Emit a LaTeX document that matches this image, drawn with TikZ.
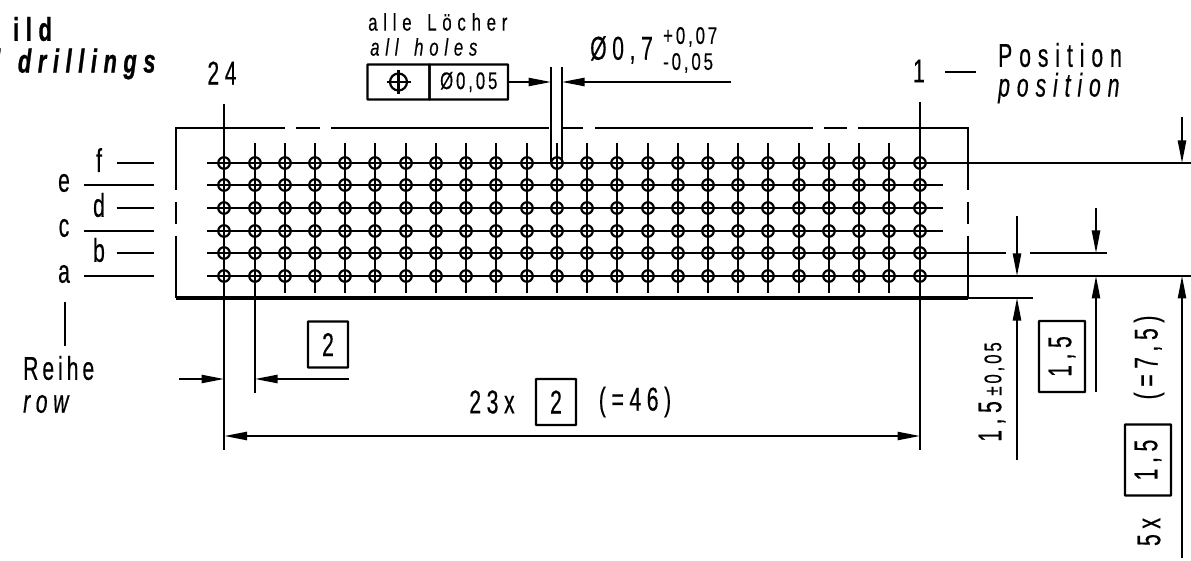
\documentclass[tikz,border=0pt]{standalone}
\usepackage{fontspec}
\usepackage{tikz}
\usetikzlibrary{arrows.meta,chains,positioning}
\newfontfamily\din[FakeStretch=0.64,LetterSpace=17,WordSpace=1.5,FakeBold=0.4]{Liberation Sans}
\newfontfamily\dinwide[FakeStretch=0.64,LetterSpace=21,WordSpace=1.5,FakeBold=0.4]{Liberation Sans}
\newfontfamily\dintight[FakeStretch=0.64,LetterSpace=12,WordSpace=1.5,FakeBold=0.4]{Liberation Sans}
\newfontfamily\dinsmall[FakeStretch=0.7,LetterSpace=24,WordSpace=1.5,FakeBold=0.3]{Liberation Sans}
\newfontfamily\dinclose[FakeStretch=0.7,LetterSpace=12,WordSpace=1.5,FakeBold=0.3]{Liberation Sans}
\newfontfamily\dinbold[FakeStretch=0.66,LetterSpace=20,WordSpace=1.4,FakeBold=0.8]{Liberation Sans Bold}
\newcommand{\bigtxt}{\din\fontsize{33}{36}\selectfont}
\newcommand{\widetxt}{\dinwide\fontsize{33}{36}\selectfont}
\newcommand{\tighttxt}{\dintight\fontsize{33}{36}\selectfont}
\newcommand{\smalltxt}{\dinsmall\fontsize{24}{26}\selectfont}
\newcommand{\closetxt}{\dinclose\fontsize{24}{26}\selectfont}
\newcommand{\boldtxt}{\dinbold\fontsize{33}{36}\selectfont}
\tikzstyle{label}=[inner sep=0pt,font=\bigtxt]
\tikzstyle{sublabel}=[inner sep=0pt,font=\smalltxt]
\tikzstyle{basic}=[draw,minimum size=0pt,inner sep=0pt,line width=2.4pt,rounded corners=0.5pt]
\tikzstyle{line}=[line width=2.4pt]
\tikzstyle{dim}=[line width=2.4pt,-{Triangle[length=23pt,width=8pt]},shorten >=-0.5pt]

\begin{document}
\begin{tikzpicture}[x=1pt,y=-1pt]
\useasboundingbox (0,0) rectangle (1191,561);
% outer frame, broken in places
\coordinate (tl) at (176,128);
\coordinate (tr) at (968,128);
\coordinate (bl) at (176,298);
\coordinate (br) at (968,298);
\draw [line] (176,190) -- (tl) -- (285,128);
\draw [line] (296,128) -- (320,128);
\draw [line] (331,128) -- (549,128);
\draw [line] (561,128) -- (583,128);
\draw [line] (595,128) -- (813,128);
\draw [line] (824,128) -- (847,128);
\draw [line] (858,128) -- (tr) -- (968,190);
\draw [line] (176,202) -- (176,224);
\draw [line] (968,202) -- (968,224);
\draw [line] (176,236) -- (bl);
\draw [line] (968,236) -- (br);
\draw [line width=3.4pt] (bl) -- (br);
% rows of holes
\foreach \name/\y in {a/276,b/253,c/231,d/208,e/185,f/163} {
    \coordinate (\name-l) at (207,\y);
    \coordinate (\name-r) at (943,\y);
    \draw [line] (\name-l) -- (\name-r);
}
\foreach \i in {0,...,23} {
    \pgfmathsetmacro{\xpos}{round(224.3+\i*30.23)}
    \coordinate (top-\i) at (\xpos,143);
    \coordinate (bot-\i) at (\xpos,293);
    \draw [line] (top-\i) -- (bot-\i);
    \foreach \y in {276,253,231,208,185,163} {
        \node [circle,draw,line width=2.2pt,inner sep=0pt,minimum size=11.5pt] at (\xpos,\y) {};
    }
}
% row letters
\foreach \name/\xl/\xa/\y/\ya in {f/99/116.5/160/163,e/64/84/183/185,d/99/116.5/205/208,c/64/84/228/231,b/99/116.5/250/253,a/64/84/274/276} {
    \node [label] (\name-txt) at (\xl,\y) {\name};
    \coordinate (\name-a) at (\xa,\ya);
    \coordinate (\name-b) at (153.5,\ya);
    \draw [line] (\name-a) -- (\name-b);
}
\node [label,anchor=west,font=\tighttxt] (reihe) at (23,368) {Reihe};
\node [label,anchor=west] (row) at (23,404) {\itshape row};
\coordinate (rowtop) at (65,302);
\coordinate (rowbot) at (65,346);
\draw [line] (rowtop) -- (rowbot);
% title, cut off by the page edge
\node [label,anchor=west,font=\boldtxt] (title) at (13,29) {ild};
\node [label,anchor=west,font=\boldtxt\itshape] (titleb) at (-6,64) {l drillings};
% top labels
\node [label] (n24) at (222,73) {24};
\node [label] (n1) at (919,71) {1};
\coordinate (dasha) at (945,72);
\coordinate (dashb) at (976,72);
\draw [line] (dasha) -- (dashb);
\node [label,anchor=west,font=\widetxt] (pos) at (998,55) {Position};
\node [label,anchor=west,font=\widetxt] (posb) at (998,88) {\itshape position};
\node [sublabel,anchor=west] (alle) at (368,22) {alle Löcher};
\node [sublabel,anchor=west] (allb) at (370,47) {\itshape all holes};
\node [label,anchor=west] (dia) at (590,50) {Ø0,7};
\node [sublabel,anchor=west,font=\closetxt] (tolu) at (663,37) {+0,07};
\node [sublabel,anchor=west,font=\closetxt] (told) at (663,63) {-0,05};
% tolerance frame
\begin{scope}[start chain=1 going right, node distance=-2.4pt]
    \node [on chain=1,basic,minimum width=62pt,minimum height=35pt] (symb) at (398.5,82) {};
    \node [on chain=1,basic,minimum width=78.5pt,minimum height=35pt,font=\closetxt] (tolbox) {Ø0,05};
\end{scope}
\node [circle,draw,line width=2.2pt,inner sep=0pt,minimum size=17pt] (cross) at (symb) {};
\draw [line] ([xshift=-12pt]cross.center) -- ([xshift=12pt]cross.center);
\draw [line] ([yshift=-12pt]cross.center) -- ([yshift=12pt]cross.center);
% hole diameter
\coordinate (exa) at (551,67);
\coordinate (exb) at (551,162);
\coordinate (exc) at (562,67);
\coordinate (exd) at (562,162);
\draw [line] (exa) -- (exb);
\draw [line] (exc) -- (exd);
\coordinate (tipl) at (551,82);
\coordinate (tipr) at (562,82);
\coordinate (tailr) at (731,82);
\draw [dim] (tolbox.east) -- (tipl);
\draw [dim] (tailr) -- (tipr);
% pitch and length dimensions
\coordinate (c24a) at (224,104);
\coordinate (c24b) at (224,450);
\coordinate (c23b) at (255,393);
\coordinate (c1a) at (920,102);
\coordinate (c1b) at (920,450);
\draw [line] (c24a) -- (c24b);
\draw [line] (top-1) -- (c23b);
\draw [line] (c1a) -- (c1b);
\coordinate (pla) at (179,379);
\coordinate (plb) at (224,379);
\coordinate (prb) at (255,379);
\node [basic,minimum width=40pt,minimum height=46pt,font=\bigtxt] (pitch) at (328,344.5) {2};
\draw [dim] (pla) -- (plb);
\draw [dim] (pitch.south east |- prb) -- (prb);
\coordinate (la) at (224,436);
\coordinate (lb) at (920,436);
\draw [dim,{Triangle[length=23pt,width=8pt]}-{Triangle[length=23pt,width=8pt]}] (la) -- (lb);
\node [label] (lentxt) at (492,402) {23x};
\node [basic,minimum width=40pt,minimum height=46pt,font=\bigtxt] (lenbox) at (556,402) {2};
\node [label] (lenres) at (635,402) {(=46)};
% right side extensions
\coordinate (exta) at (1191,163);
\coordinate (extb) at (1191,276);
\coordinate (extc) at (1006,253);
\coordinate (extd) at (1030,253);
\coordinate (exte) at (1107,253);
\coordinate (extf) at (1033,298);
\draw [line] (f-r) -- (exta);
\draw [line] (a-r) -- (extb);
\draw [line] (b-r) -- (extc);
\draw [line] (extd) -- (exte);
\draw [line] (br) -- (extf);
% right side dimensions
\coordinate (d1a) at (1017,216);
\coordinate (d1b) at (1017,276);
\coordinate (d1c) at (1017,460);
\coordinate (d1d) at (1017,298);
\draw [dim] (d1a) -- (d1b);
\draw [dim] (d1c) -- (d1d);
\coordinate (d2a) at (1096,208);
\coordinate (d2b) at (1096,253);
\coordinate (d2c) at (1096,392);
\coordinate (d2d) at (1096,276);
\draw [dim] (d2a) -- (d2b);
\draw [dim] (d2c) -- (d2d);
\coordinate (d3a) at (1182,117);
\coordinate (d3b) at (1182,163);
\coordinate (d3c) at (1182,558);
\coordinate (d3d) at (1182,276);
\draw [dim] (d3a) -- (d3b);
\draw [dim] (d3c) -- (d3d);
\node [label,rotate=90] (tol) at (992,392) {1,5\,{\closetxt ±0,05}};
\node [basic,rotate=90,minimum width=71pt,minimum height=46pt,font=\bigtxt] (rbox) at (1062,356.5) {1,5};
\node [basic,rotate=90,minimum width=71pt,minimum height=46pt,font=\bigtxt] (rboxb) at (1148,460) {1,5};
\node [label,rotate=90] (res) at (1149,357.5) {(=7,5)};
\node [label,rotate=90] (fivex) at (1149,532) {5x};
\end{tikzpicture}
\end{document}
